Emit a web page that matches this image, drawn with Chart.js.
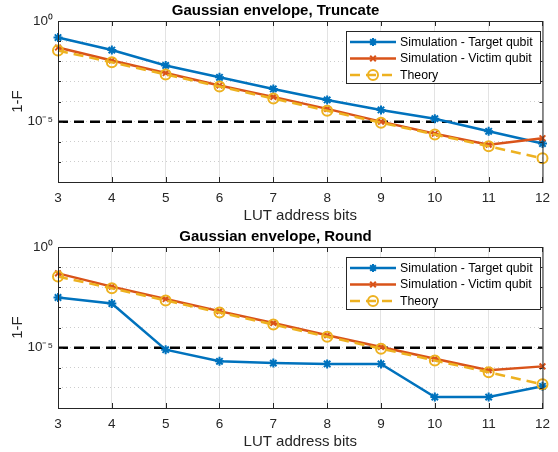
<!DOCTYPE html>
<html>
<head>
<meta charset="utf-8">
<script src="https://cdn.jsdelivr.net/npm/chart.js@4.4.1/dist/chart.umd.min.js"></script>
<style>
  html, body { margin: 0; padding: 0; background: #fff; }
  .panel { position: absolute; left: 0; width: 558px; height: 226px; }
</style>
</head>
<body>
<div class="panel" style="top:0"><canvas id="truncChart" width="558" height="226"></canvas></div>
<div class="panel" style="top:226px"><canvas id="roundChart" width="558" height="226"></canvas></div>
<script>
const lutBits = ['3', '4', '5', '6', '7', '8', '9', '10', '11', '12'];
const decadeTicks = [1e-8, 1e-7, 1e-6, 1e-5, 1e-4, 1e-3, 1e-2, 1e-1, 1];
const tickLabels = { 1: '10\u2070', 0.00001: '10\u207B\u2075' };
const threshold = 1e-5;

const truncTarget = [1.5e-1, 3.6e-2, 6.2e-3, 1.6e-3, 4.2e-4, 1.2e-4, 3.8e-5, 1.4e-5, 3.3e-6, 8.1e-7];
const truncVictim = [4.8e-2, 1.1e-2, 2.6e-3, 6.3e-4, 1.7e-4, 4.3e-5, 1.0e-5, 2.5e-6, 7.2e-7, 1.5e-6];
const roundTarget = [3.1e-3, 1.55e-3, 7.9e-6, 2.1e-6, 1.7e-6, 1.55e-6, 1.55e-6, 3.5e-8, 3.5e-8, 1.2e-7];
const roundVictim = [4.9e-2, 1.07e-2, 2.6e-3, 6.5e-4, 1.66e-4, 4.1e-5, 1.07e-5, 2.8e-6, 7.6e-7, 1.17e-6];
const theory = [3.4e-2, 8.9e-3, 2.2e-3, 5.6e-4, 1.4e-4, 3.5e-5, 8.9e-6, 2.3e-6, 6.0e-7, 1.5e-7];

const palette = {
  target: '#0072BD',
  victim: '#D95319',
  theory: '#EDB120',
  axis: '#262626',
  grid: '#e3e3e3',
  minorGrid: '#cdcdcd',
};
const FONT = "'Liberation Sans', Arial, Helvetica, sans-serif";

const legendItems = [
  { label: 'Simulation - Target qubit', color: palette.target, style: 'star', dash: [] },
  { label: 'Simulation - Victim qubit', color: palette.victim, style: 'crossRot', dash: [] },
  { label: 'Theory', color: palette.theory, style: 'circle', dash: [10, 6] },
];

// threshold line behind the data
const thresholdPlugin = {
  id: 'threshold',
  beforeDatasetsDraw(chart) {
    const { ctx, chartArea, scales } = chart;
    const y = scales.y.getPixelForValue(threshold);
    ctx.save();
    ctx.strokeStyle = '#000';
    ctx.lineWidth = 2.5;
    ctx.setLineDash([10, 6]);
    ctx.beginPath();
    ctx.moveTo(chartArea.left, y);
    ctx.lineTo(chartArea.right, y);
    ctx.stroke();
    ctx.restore();
  },
};

// matlab style box with inward ticks, and legend inside the axes
const boxPlugin = {
  id: 'box',
  afterDraw(chart) {
    const { ctx, chartArea, scales } = chart;
    const { left, right, top, bottom } = chartArea;
    ctx.save();
    ctx.strokeStyle = palette.axis;
    ctx.lineWidth = 1;
    ctx.strokeRect(left + 0.5, top + 0.5, right - left, bottom - top);
    ctx.beginPath();
    lutBits.forEach((_, i) => {
      const x = Math.round(scales.x.getPixelForValue(i)) + 0.5;
      ctx.moveTo(x, top);
      ctx.lineTo(x, top + 5);
      ctx.moveTo(x, bottom);
      ctx.lineTo(x, bottom - 5);
    });
    decadeTicks.forEach((v) => {
      const y = Math.round(scales.y.getPixelForValue(v)) + 0.5;
      const len = tickLabels[v] ? 5 : 3;
      ctx.moveTo(left, y);
      ctx.lineTo(left + len, y);
      ctx.moveTo(right, y);
      ctx.lineTo(right - len, y);
    });
    ctx.stroke();

    const bx = 346.5;
    const by = 31.5;
    const bw = 194;
    const bh = 52;
    ctx.fillStyle = '#fff';
    ctx.fillRect(bx, by, bw, bh);
    ctx.strokeStyle = palette.axis;
    ctx.strokeRect(bx, by, bw, bh);
    ctx.font = `12.3px ${FONT}`;
    ctx.textBaseline = 'middle';
    ctx.textAlign = 'left';
    legendItems.forEach((item, i) => {
      const y = 42 + i * 16.5;
      ctx.strokeStyle = item.color;
      ctx.lineWidth = 2.5;
      ctx.setLineDash(item.dash);
      ctx.beginPath();
      ctx.moveTo(350, y);
      ctx.lineTo(396, y);
      ctx.stroke();
      ctx.setLineDash([]);
      ctx.fillStyle = 'rgba(0,0,0,0)';
      ctx.strokeStyle = item.color;
      ctx.lineWidth = 2;
      Chart.helpers.drawPoint(ctx, {
        pointStyle: item.style,
        radius: item.style === 'circle' ? 5 : 4,
        rotation: 0,
        borderWidth: 2,
      }, 373, y);
      ctx.fillStyle = '#000';
      ctx.fillText(item.label, 400, y + 0.5);
    });
    ctx.restore();
  },
};

function renderPanel(canvasId, titleText, target, victim) {
  const canvas = document.getElementById(canvasId);
  return new Chart(canvas.getContext('2d'), {
    type: 'line',
    data: {
      labels: lutBits,
      datasets: [
        {
          label: 'Theory',
          data: theory,
          borderColor: palette.theory,
          backgroundColor: 'rgba(0,0,0,0)',
          borderWidth: 2.5,
          borderDash: [10, 6],
          pointStyle: 'circle',
          pointRadius: 5,
          pointBorderWidth: 2,
          tension: 0,
        },
        {
          label: 'Simulation - Victim qubit',
          data: victim,
          borderColor: palette.victim,
          backgroundColor: palette.victim,
          borderWidth: 2.5,
          pointStyle: 'crossRot',
          pointRadius: 4,
          pointBorderWidth: 2,
          tension: 0,
        },
        {
          label: 'Simulation - Target qubit',
          data: target,
          borderColor: palette.target,
          backgroundColor: palette.target,
          borderWidth: 2.5,
          pointStyle: 'star',
          pointRadius: 4.5,
          pointBorderWidth: 2,
          tension: 0,
        },
      ],
    },
    options: {
      responsive: false,
      animation: false,
      layout: { padding: { left: 0, right: 7, top: 0, bottom: 0 } },
      plugins: {
        legend: { display: false },
        tooltip: { enabled: false },
        title: {
          display: true,
          text: titleText,
          color: '#000',
          font: { family: FONT, size: 15, weight: 'bold' },
          padding: { top: 2, bottom: 1 },
        },
      },
      scales: {
        x: {
          offset: false,
          ticks: {
            color: palette.axis,
            font: { family: FONT, size: 13.5 },
            padding: 8,
            maxRotation: 0,
          },
          grid: { color: palette.grid, drawTicks: false },
          border: { display: false },
          title: {
            display: true,
            text: 'LUT address bits',
            color: palette.axis,
            font: { family: FONT, size: 15 },
            padding: { top: 0, bottom: 1 },
          },
          afterFit(scale) {
            scale.height = 44;
          },
        },
        y: {
          type: 'logarithmic',
          min: 1e-8,
          max: 1,
          afterBuildTicks(scale) {
            scale.ticks = decadeTicks.map((value) => ({ value }));
          },
          ticks: {
            color: palette.axis,
            font: { family: FONT, size: 13.5 },
            padding: 5,
            autoSkip: false,
            callback(value) {
              return tickLabels[value] || '';
            },
          },
          grid: { color: palette.minorGrid, drawTicks: false },
          border: { display: false, dash: [1, 3] },
          title: {
            display: true,
            text: '1-F',
            color: palette.axis,
            font: { family: FONT, size: 15 },
            padding: { top: 9, bottom: 0 },
          },
          afterFit(scale) {
            scale.width = 58;
          },
        },
      },
    },
    plugins: [thresholdPlugin, boxPlugin],
  });
}

renderPanel('truncChart', 'Gaussian envelope, Truncate', truncTarget, truncVictim);
renderPanel('roundChart', 'Gaussian envelope, Round', roundTarget, roundVictim);
</script>
</body>
</html>
